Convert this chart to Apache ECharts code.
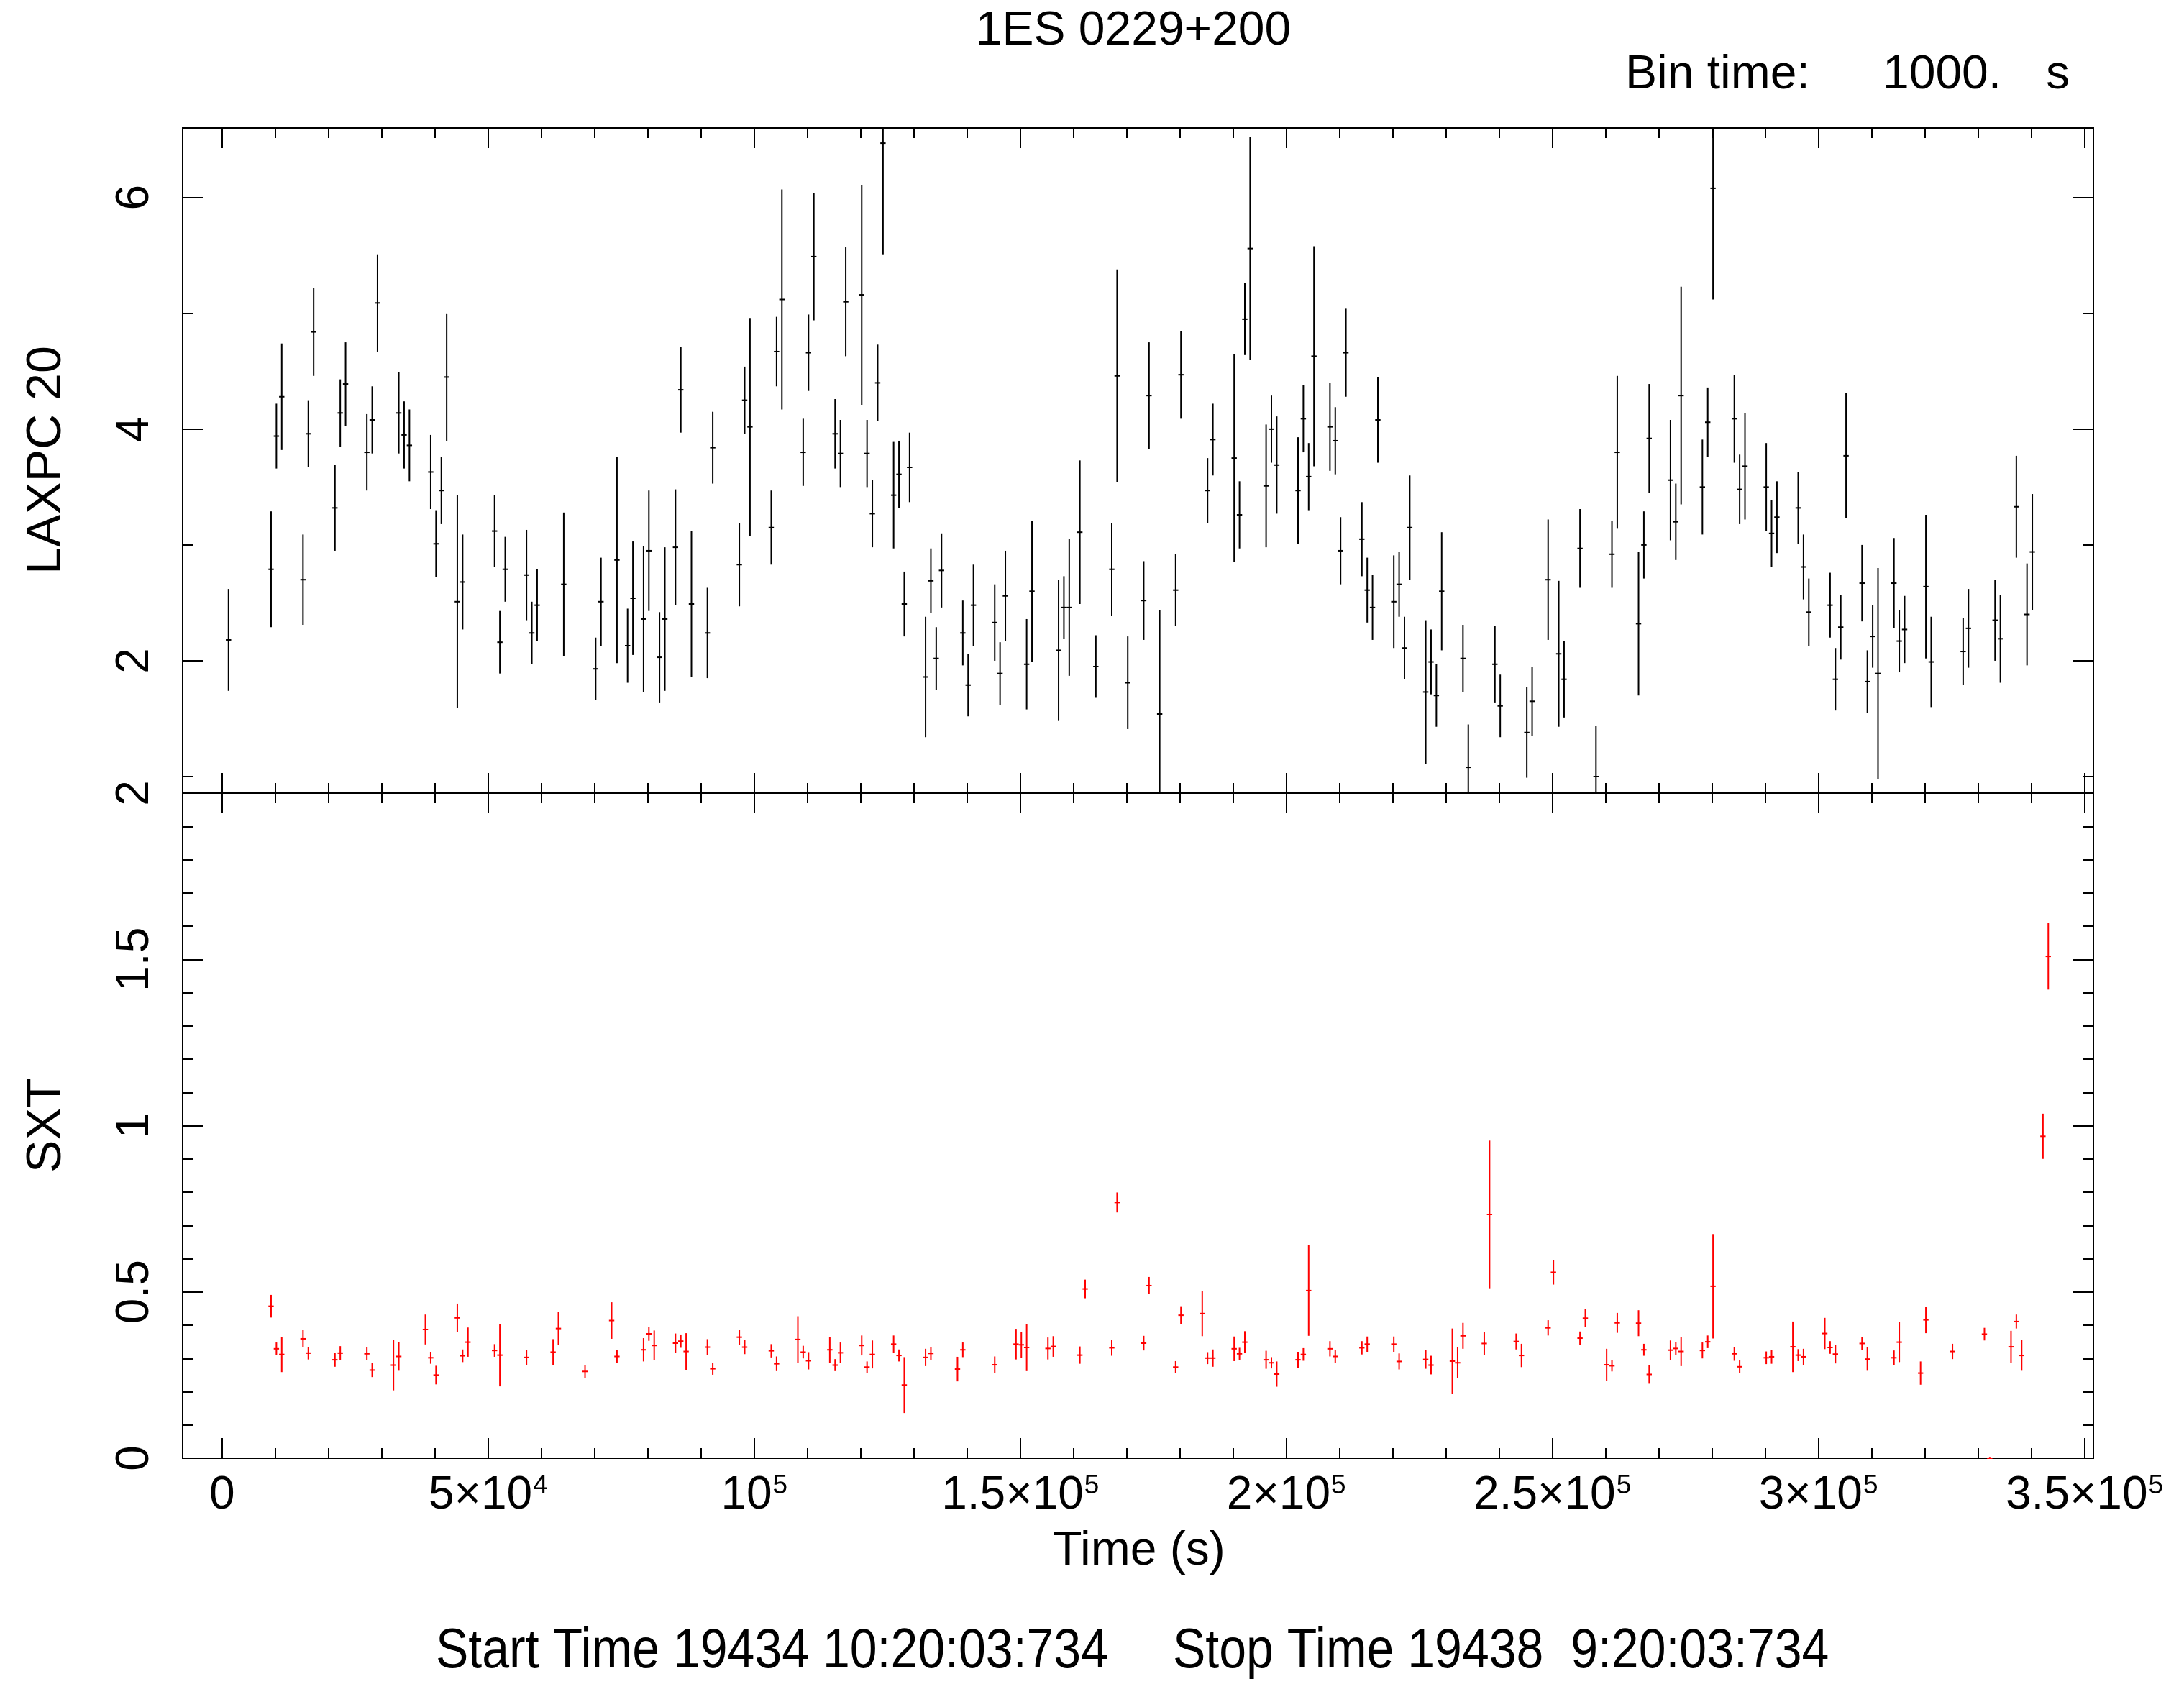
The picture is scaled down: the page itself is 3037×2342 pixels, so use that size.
<!DOCTYPE html>
<html>
<head>
<meta charset="utf-8">
<title>1ES 0229+200 light curve</title>
<script src="https://cdn.jsdelivr.net/npm/echarts@6.0.0/dist/echarts.min.js"></script>
<style>
  html, body { margin: 0; padding: 0; background: #ffffff; }
  #chart { width: 3037px; height: 2342px; }
</style>
</head>
<body>
<div id="chart"></div>
<script>
// ---- LAXPC 20 light curve (1000 s bins): bin centre [s], rate, 1-sigma error ----
const LAXPC_TIME = [
  1200, 9200, 10200, 11200, 15200, 16200, 17200, 21200, 22200, 23200,
  27200, 28200, 29200, 33200, 34200, 35200, 39200, 40200, 41200, 42200,
  44200, 45200, 51200, 52200, 53200, 57200, 58200, 59200, 64200, 70200,
  71200, 74200, 76200, 77200, 79200, 80200, 82200, 83200, 85200, 86200,
  88200, 91200, 92200, 97200, 98200, 99200, 103200, 104200, 105200, 109200,
  110200, 111200, 115200, 116200, 117200, 120200, 121200, 122200, 123200, 124200,
  126200, 127200, 128200, 129200, 132200, 133200, 134200, 135200, 139200, 140200,
  141200, 145200, 146200, 147200, 151200, 152200, 157200, 158200, 159200, 161200,
  164200, 167200, 168200, 170200, 173200, 174200, 176200, 179200, 180200, 185200,
  186200, 190200, 191200, 192200, 193200, 196200, 197200, 198200, 202200, 203200,
  204200, 205200, 208200, 209200, 210200, 211200, 214200, 215200, 216200, 217200,
  220200, 221200, 222200, 223200, 226200, 227200, 228200, 229200, 233200, 234200,
  239200, 240200, 245200, 246200, 249200, 251200, 252200, 255200, 258200, 261200,
  262200, 266200, 267200, 268200, 272200, 273200, 274200, 278200, 279200, 280200,
  284200, 285200, 286200, 290200, 291200, 292200, 296200, 297200, 298200, 302200,
  303200, 304200, 305200, 308200, 309200, 310200, 311200, 314200, 315200, 316200,
  320200, 321200, 327200, 328200, 333200, 334200, 337200, 339200, 340200
];
const LAXPC_RATE = [
  2.18, 2.79, 3.94, 4.28, 2.70, 3.96, 4.84, 3.32, 4.14, 4.39,
  3.80, 4.08, 5.09, 4.14, 3.95, 3.86, 3.63, 3.01, 3.47, 4.45,
  2.51, 2.68, 3.12, 2.16, 2.79, 2.74, 2.24, 2.48, 2.66, 1.93,
  2.51, 2.87, 2.13, 2.54, 2.36, 2.95, 2.03, 2.36, 2.98, 4.34,
  2.49, 2.24, 3.84, 2.83, 4.25, 4.02, 3.15, 4.67, 5.12, 3.80,
  4.66, 5.49, 3.96, 3.79, 5.10, 5.16, 3.79, 3.27, 4.40, 6.47,
  3.43, 3.61, 2.49, 3.67, 1.86, 2.69, 2.02, 2.78, 2.24, 1.79,
  2.48, 2.33, 1.89, 2.56, 1.97, 2.60, 2.09, 2.46, 2.46, 3.11,
  1.95, 2.79, 4.46, 1.81, 2.52, 4.29, 1.54, 2.61, 4.47, 3.47,
  3.91, 3.75, 3.26, 4.95, 5.56, 3.51, 4.00, 3.69, 3.47, 4.09,
  3.59, 4.63, 4.02, 3.90, 2.95, 4.66, 3.05, 2.61, 2.46, 4.08,
  2.51, 2.66, 2.11, 3.15, 1.73, 1.99, 1.70, 2.60, 2.02, 1.08,
  1.97, 1.61, 1.38, 1.65, 2.70, 2.06, 1.84, 2.97, 1.00, 2.92,
  3.80, 2.32, 3.00, 3.92, 3.56, 3.20, 4.29, 3.50, 4.06, 6.08,
  4.09, 3.48, 3.68, 3.50, 3.10, 3.24, 3.32, 2.81, 2.42, 2.48,
  1.84, 2.29, 3.77, 2.67, 1.82, 2.21, 1.89, 2.67, 2.17, 2.27,
  2.64, 1.99, 2.08, 2.28, 2.35, 2.19, 3.33, 2.40, 2.94
];
const LAXPC_ERR = [
  0.44, 0.50, 0.28, 0.46, 0.39, 0.29, 0.38, 0.37, 0.29, 0.36,
  0.33, 0.29, 0.42, 0.35, 0.29, 0.31, 0.32, 0.29, 0.29, 0.55,
  0.92, 0.41, 0.31, 0.27, 0.28, 0.39, 0.27, 0.31, 0.62, 0.27,
  0.38, 0.89, 0.32, 0.49, 0.63, 0.52, 0.39, 0.62, 0.50, 0.37,
  0.63, 0.39, 0.31, 0.36, 0.29, 0.94, 0.32, 0.30, 0.95, 0.29,
  0.33, 0.55, 0.30, 0.29, 0.47, 0.95, 0.29, 0.29, 0.33, 0.96,
  0.46, 0.29, 0.28, 0.30, 0.52, 0.28, 0.27, 0.32, 0.28, 0.27,
  0.35, 0.33, 0.27, 0.39, 0.39, 0.61, 0.61, 0.27, 0.59, 0.62,
  0.27, 0.40, 0.92, 0.40, 0.34, 0.46, 0.90, 0.31, 0.38, 0.28,
  0.31, 0.90, 0.29, 0.31, 0.96, 0.53, 0.29, 0.42, 0.46, 0.29,
  0.29, 0.95, 0.38, 0.29, 0.29, 0.38, 0.32, 0.28, 0.28, 0.37,
  0.40, 0.28, 0.27, 0.45, 0.62, 0.28, 0.27, 0.51, 0.29, 0.37,
  0.33, 0.27, 0.39, 0.30, 0.52, 0.63, 0.33, 0.34, 0.44, 0.29,
  0.66, 0.62, 0.29, 0.47, 0.52, 0.33, 0.94, 0.41, 0.30, 0.96,
  0.38, 0.30, 0.46, 0.38, 0.29, 0.31, 0.31, 0.28, 0.29, 0.28,
  0.27, 0.28, 0.54, 0.33, 0.27, 0.27, 0.91, 0.39, 0.27, 0.29,
  0.62, 0.39, 0.29, 0.34, 0.35, 0.38, 0.44, 0.44, 0.50
];

// ---- SXT light curve (1000 s bins) ----
const SXT_TIME = [
  9200, 10200, 11200, 15200, 16200, 21200, 22200, 27200, 28200, 32200,
  33200, 38200, 39200, 40200, 44200, 45200, 46200, 51200, 52200, 57200,
  62200, 63200, 68200, 73200, 74200, 79200, 80200, 81200, 85200, 86200,
  87200, 91200, 92200, 97200, 98200, 103200, 104200, 108200, 109200, 110200,
  114200, 115200, 116200, 120200, 121200, 122200, 126200, 127200, 128200, 132200,
  133200, 138200, 139200, 145200, 149200, 150200, 151200, 155200, 156200, 161200,
  162200, 167200, 168200, 173200, 174200, 179200, 180200, 184200, 185200, 186200,
  190200, 191200, 192200, 196200, 197200, 198200, 202200, 203200, 204200, 208200,
  209200, 214200, 215200, 220200, 221200, 226200, 227200, 231200, 232200, 233200,
  237200, 238200, 243200, 244200, 249200, 250200, 255200, 256200, 260200, 261200,
  262200, 266200, 267200, 268200, 272200, 273200, 274200, 278200, 279200, 280200,
  284200, 285200, 290200, 291200, 295200, 296200, 297200, 301200, 302200, 303200,
  308200, 309200, 314200, 315200, 319200, 320200, 325200, 331200, 332200, 336200,
  337200, 338200, 342200, 343200
];
const SXT_RATE = [
  0.457, 0.329, 0.312, 0.359, 0.316, 0.296, 0.316, 0.314, 0.265, 0.280,
  0.306, 0.387, 0.302, 0.250, 0.422, 0.308, 0.349, 0.324, 0.310, 0.303,
  0.319, 0.390, 0.261, 0.414, 0.306, 0.326, 0.374, 0.339, 0.346, 0.352,
  0.321, 0.334, 0.269, 0.364, 0.334, 0.323, 0.284, 0.357, 0.319, 0.293,
  0.326, 0.280, 0.317, 0.339, 0.274, 0.312, 0.343, 0.309, 0.220, 0.303,
  0.315, 0.268, 0.326, 0.281, 0.343, 0.341, 0.333, 0.330, 0.336, 0.310,
  0.509, 0.332, 0.769, 0.346, 0.519, 0.274, 0.430, 0.435, 0.301, 0.301,
  0.329, 0.314, 0.349, 0.296, 0.287, 0.253, 0.296, 0.312, 0.504, 0.329,
  0.306, 0.332, 0.343, 0.343, 0.291, 0.297, 0.280, 0.292, 0.287, 0.368,
  0.345, 0.733, 0.351, 0.309, 0.392, 0.559, 0.361, 0.421, 0.281, 0.278,
  0.407, 0.406, 0.326, 0.252, 0.325, 0.330, 0.321, 0.324, 0.350, 0.517,
  0.314, 0.275, 0.302, 0.305, 0.335, 0.310, 0.305, 0.375, 0.333, 0.313,
  0.345, 0.298, 0.302, 0.349, 0.256, 0.416, 0.321, 0.373, 0.000, 0.335,
  0.411, 0.309, 0.968, 1.509
];
const SXT_ERR = [
  0.034, 0.019, 0.053, 0.026, 0.019, 0.021, 0.021, 0.020, 0.021, 0.076,
  0.043, 0.045, 0.018, 0.028, 0.043, 0.019, 0.044, 0.019, 0.094, 0.023,
  0.039, 0.050, 0.020, 0.055, 0.019, 0.035, 0.021, 0.045, 0.029, 0.020,
  0.055, 0.024, 0.018, 0.023, 0.021, 0.020, 0.022, 0.070, 0.019, 0.026,
  0.039, 0.018, 0.031, 0.030, 0.017, 0.042, 0.026, 0.018, 0.084, 0.026,
  0.020, 0.037, 0.022, 0.025, 0.046, 0.039, 0.071, 0.033, 0.031, 0.026,
  0.028, 0.024, 0.030, 0.022, 0.026, 0.018, 0.027, 0.068, 0.018, 0.026,
  0.037, 0.018, 0.033, 0.027, 0.017, 0.038, 0.024, 0.019, 0.136, 0.023,
  0.020, 0.020, 0.023, 0.023, 0.024, 0.028, 0.028, 0.098, 0.046, 0.039,
  0.035, 0.222, 0.024, 0.035, 0.023, 0.037, 0.020, 0.027, 0.048, 0.017,
  0.030, 0.039, 0.018, 0.028, 0.029, 0.019, 0.044, 0.024, 0.019, 0.157,
  0.021, 0.019, 0.019, 0.021, 0.076, 0.018, 0.024, 0.047, 0.019, 0.028,
  0.020, 0.035, 0.022, 0.060, 0.035, 0.040, 0.023, 0.019, 0.004, 0.048,
  0.021, 0.046, 0.068, 0.100
];

// ---- Axis ticks ----
const BIN_TIME = 1000;
const X_MAJOR_TICKS = [0, 50000, 100000, 150000, 200000, 250000, 300000, 350000];
const X_MINOR_TICKS = Array.from({ length: 36 }, (_, i) => i * 10000);
const LAXPC_MAJOR_TICKS = [2, 4, 6];
const LAXPC_MINOR_TICKS = [1, 2, 3, 4, 5, 6];
const SXT_MAJOR_TICKS = [0, 0.5, 1, 1.5, 2];
const SXT_MINOR_TICKS = Array.from({ length: 21 }, (_, i) => +(i * 0.1).toFixed(1));

// ---- Plot ranges ----
const X_MIN = -7420, X_MAX = 351680;
const LAXPC_MIN = 0.857, LAXPC_MAX = 6.601;
const SXT_MIN = 0, SXT_MAX = 2;

const FONT = '"Liberation Sans", Arial, Helvetica, sans-serif';
const INK = '#000000';
const GRID_LEFT = 254, GRID_WIDTH = 2657, PANEL_H = 925, TOP_Y = 178;
const MAJOR_LEN = 28, MINOR_LEN = 14;

// Labels like 5×10⁴, 10⁵, 1.5×10⁵
function sciLabel(v) {
  if (v === 0) return '0';
  const exp = Math.floor(Math.log10(v) + 1e-9);
  const mant = +(v / Math.pow(10, exp)).toFixed(3);
  return mant === 1 ? '10{sup|' + exp + '}' : mant + '×10{sup|' + exp + '}';
}

function xAxis(gridIndex, position, ticks, len, label) {
  return {
    type: 'value', gridIndex, position, min: X_MIN, max: X_MAX,
    axisLine: { show: true, onZero: false, lineStyle: { color: INK, width: 2 } },
    axisTick: { show: true, inside: true, length: len, customValues: ticks,
                lineStyle: { color: INK, width: 2 } },
    axisLabel: label ? {
      show: true, customValues: ticks, formatter: sciLabel, margin: 20,
      color: INK, fontFamily: FONT, fontSize: 64,
      showMinLabel: true, showMaxLabel: true,
      rich: { sup: { fontSize: 37, fontFamily: FONT, color: INK, verticalAlign: 'top', padding: [0, 0, 0, 1] } }
    } : { show: false },
    splitLine: { show: false }
  };
}

function yAxis(gridIndex, position, min, max, ticks, len, label) {
  return {
    type: 'value', gridIndex, position, min, max,
    axisLine: { show: true, onZero: false, lineStyle: { color: INK, width: 2 } },
    axisTick: { show: true, inside: true, length: len, customValues: ticks,
                lineStyle: { color: INK, width: 2 } },
    axisLabel: label ? {
      show: true, customValues: ticks, rotate: 90, margin: 34,
      color: INK, fontFamily: FONT, fontSize: 64,
      showMinLabel: true, showMaxLabel: true,
      formatter: (v) => String(+v.toFixed(2))
    } : { show: false },
    splitLine: { show: false }
  };
}

// Error bar cross: vertical ±error, horizontal ±half a bin
function errorBars(color) {
  return function (params, api) {
    const t = api.value(0), v = api.value(1), e = api.value(2);
    const cs = params.coordSys;
    const yLo = cs.y, yHi = cs.y + cs.height;
    const top = api.coord([t, v + e]);
    const bot = api.coord([t, v - e]);
    const left = api.coord([t - BIN_TIME / 2, v]);
    const right = api.coord([t + BIN_TIME / 2, v]);
    const y1 = Math.max(yLo, Math.min(yHi, top[1]));
    const y2 = Math.max(yLo, Math.min(yHi, bot[1]));
    const children = [];
    if (y2 > y1) {
      children.push({ type: 'line', shape: { x1: top[0], y1, x2: top[0], y2 },
                      style: { stroke: color, lineWidth: 2 } });
    }
    if (left[1] >= yLo - 0.5 && left[1] <= yHi + 0.5) {
      children.push({ type: 'line', shape: { x1: left[0], y1: left[1], x2: right[0], y2: right[1] },
                      style: { stroke: color, lineWidth: 2 } });
    }
    return { type: 'group', children };
  };
}

const laxpcData = LAXPC_TIME.map((t, i) => [t, LAXPC_RATE[i], LAXPC_ERR[i]]);
const sxtData = SXT_TIME.map((t, i) => [t, SXT_RATE[i], SXT_ERR[i]]);

function text(x, y, str, opts) {
  const o = opts || {};
  const align = o.align || 'center';
  return {
    type: 'text', x, y, rotation: o.rotation || 0, scaleY: o.scaleY || 1, silent: true,
    style: {
      text: str, fill: INK, fontFamily: FONT, fontSize: o.size || 66,
      align: align, textAlign: align, verticalAlign: 'middle', textVerticalAlign: 'middle'
    }
  };
}

const chart = echarts.init(document.getElementById('chart'), null, { renderer: 'canvas' });
chart.setOption({
  animation: false,
  backgroundColor: '#ffffff',
  grid: [
    { left: GRID_LEFT, top: TOP_Y, width: GRID_WIDTH, height: PANEL_H, containLabel: false },
    { left: GRID_LEFT, top: TOP_Y + PANEL_H, width: GRID_WIDTH, height: PANEL_H, containLabel: false }
  ],
  xAxis: [
    xAxis(0, 'bottom', X_MAJOR_TICKS, MAJOR_LEN, false),
    xAxis(0, 'bottom', X_MINOR_TICKS, MINOR_LEN, false),
    xAxis(0, 'top', X_MAJOR_TICKS, MAJOR_LEN, false),
    xAxis(0, 'top', X_MINOR_TICKS, MINOR_LEN, false),
    xAxis(1, 'bottom', X_MAJOR_TICKS, MAJOR_LEN, true),
    xAxis(1, 'bottom', X_MINOR_TICKS, MINOR_LEN, false),
    xAxis(1, 'top', X_MAJOR_TICKS, MAJOR_LEN, false),
    xAxis(1, 'top', X_MINOR_TICKS, MINOR_LEN, false)
  ],
  yAxis: [
    yAxis(0, 'left', LAXPC_MIN, LAXPC_MAX, LAXPC_MAJOR_TICKS, MAJOR_LEN, true),
    yAxis(0, 'left', LAXPC_MIN, LAXPC_MAX, LAXPC_MINOR_TICKS, MINOR_LEN, false),
    yAxis(0, 'right', LAXPC_MIN, LAXPC_MAX, LAXPC_MAJOR_TICKS, MAJOR_LEN, false),
    yAxis(0, 'right', LAXPC_MIN, LAXPC_MAX, LAXPC_MINOR_TICKS, MINOR_LEN, false),
    yAxis(1, 'left', SXT_MIN, SXT_MAX, SXT_MAJOR_TICKS, MAJOR_LEN, true),
    yAxis(1, 'left', SXT_MIN, SXT_MAX, SXT_MINOR_TICKS, MINOR_LEN, false),
    yAxis(1, 'right', SXT_MIN, SXT_MAX, SXT_MAJOR_TICKS, MAJOR_LEN, false),
    yAxis(1, 'right', SXT_MIN, SXT_MAX, SXT_MINOR_TICKS, MINOR_LEN, false)
  ],
  series: [
    { name: 'LAXPC 20', type: 'custom', xAxisIndex: 0, yAxisIndex: 0,
      encode: { x: 0, y: 1 }, renderItem: errorBars('#000000'), data: laxpcData, z: 5 },
    { name: 'SXT', type: 'custom', xAxisIndex: 4, yAxisIndex: 4,
      encode: { x: 0, y: 1 }, renderItem: errorBars('#ff0000'), data: sxtData, z: 5 }
  ],
  graphic: [
    text(1576, 44, '1ES 0229+200'),
    text(2260, 105, 'Bin time:', { align: 'left' }),
    text(2618, 105, '1000.', { align: 'left' }),
    text(2845, 105, 's', { align: 'left' }),
    text(65, 640, 'LAXPC 20', { rotation: Math.PI / 2, size: 68 }),
    text(65, 1565, 'SXT', { rotation: Math.PI / 2, size: 68 }),
    text(1584, 2158, 'Time (s)'),
    text(606, 2297, 'Start Time 19434 10:20:03:734', { align: 'left', size: 68, scaleY: 1.15 }),
    text(1631, 2297, 'Stop Time 19438  9:20:03:734', { align: 'left', size: 68, scaleY: 1.15 })
  ]
});
</script>
</body>
</html>
